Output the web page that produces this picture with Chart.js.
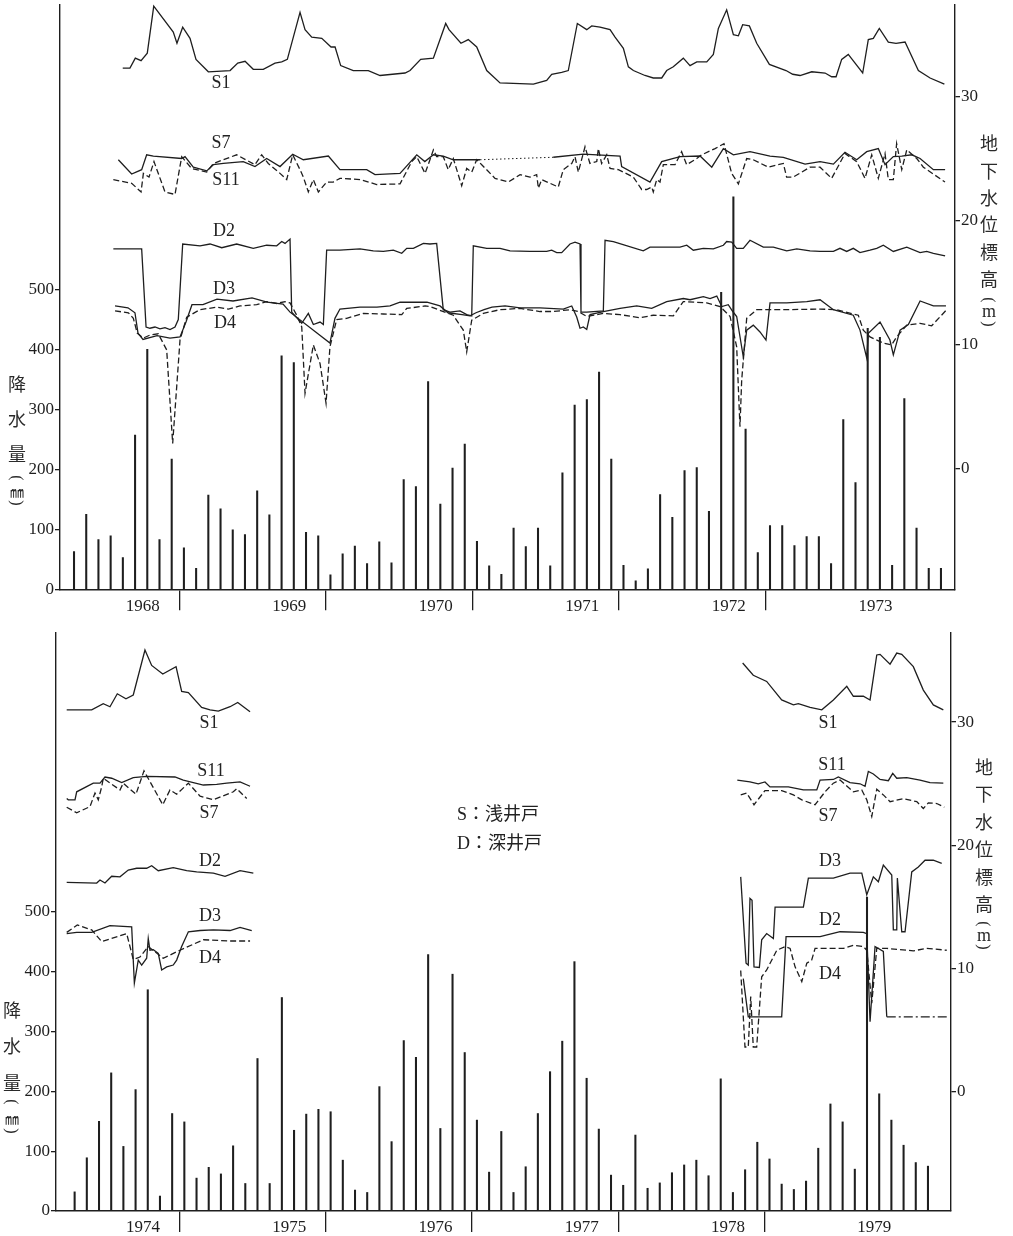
<!DOCTYPE html>
<html>
<head>
<meta charset="utf-8">
<script src="https://cdn.jsdelivr.net/npm/chart.js@4.4.1/dist/chart.umd.min.js"></script>
<style>
  html, body { margin: 0; padding: 0; background: #fff; }
  body { width: 1013px; height: 1236px; position: relative; overflow: hidden; color: #222; }
  canvas { position: absolute; left: 0; display: block; }
  .tag { position: absolute; transform: translate(-50%, -50%); white-space: nowrap;
         font: 18px "Liberation Serif", "Noto Sans CJK JP", serif; color: #222; line-height: 1; }
  .ch { position: absolute; transform: translate(-50%, -50%); white-space: nowrap;
        font: 18px "Noto Sans CJK JP", sans-serif; color: #2a2a2a; line-height: 1; }
  .ch.lat { font-family: "Liberation Serif", serif; }
  .ch.par { font-family: "Liberation Serif", serif; font-size: 16px; transform: translate(-50%, -50%) rotate(90deg); }
  .note { position: absolute; white-space: nowrap; transform: translateY(-50%);
          font: 18px "Liberation Serif", "Noto Sans CJK JP", serif; color: #222; line-height: 1; }
</style>
</head>
<body>
<canvas id="top" width="1013" height="620" style="top:0px"></canvas>
<canvas id="bottom" width="1013" height="616" style="top:620px"></canvas>
<script>
// ---- year labels ----
const years1 = ['1968', '1969', '1970', '1971', '1972', '1973'];
const years2 = ['1974', '1975', '1976', '1977', '1978', '1979'];

// ---- monthly precipitation (mm), Jan..Dec of each year ----
const rain1 = [
  63, 125, 83, 89, 53, 257, 400, 83, 217, 69, 35, 157,
  134, 99, 91, 164, 124, 389, 378, 95, 89, 24, 59, 72,
  43, 79, 44, 183, 171, 346, 142, 202, 242, 80, 39, 25,
  102, 71, 102, 39, 194, 307, 316, 362, 217, 40, 14, 34,
  158, 120, 198, 203, 130, 495, 654, 267, 61, 106, 106, 73,
  88, 88, 43, 283, 178, 435, 420, 40, 318, 102, 35, 35
];
const rain2 = [
  32, 89, 150, 231, 108, 203, 370, 25, 163, 149, 55, 73,
  62, 109, 46, 255, 46, 357, 135, 162, 170, 166, 85, 35,
  31, 208, 116, 285, 257, 429, 138, 396, 265, 152, 65, 133,
  31, 74, 163, 233, 284, 417, 222, 137, 60, 43, 127, 38,
  47, 64, 77, 85, 59, 221, 31, 69, 115, 87, 45, 36,
  50, 105, 179, 149, 70, 525, 196, 152, 110, 81, 75, null
];

const rainTicks = [0, 100, 200, 300, 400, 500];
const levelTicks = [0, 10, 20, 30];

// ---- groundwater level (m); [months since January of first year, level] ----
// 1968-1973
const s1Top = [[4.36,32.3],[4.95,32.3],[5.39,33.1],[5.86,32.9],[6.37,33.5],[6.9,37.3],[8.5,35.2],[8.8,34.3],[9.27,35.6],[9.87,34.7],[10.36,33.0],[11.37,32.0],[13.15,32.1],[13.78,32.7],[14.38,32.85],[15.05,32.2],[15.87,32.2],[16.83,32.7],[17.38,32.8],[17.84,33.0],[18.88,36.8],[19.29,35.4],[19.84,34.8],[20.66,34.7],[21.42,34.0],[21.75,34.0],[22.21,32.5],[23.24,32.1],[24.47,32.1],[25.43,31.7],[27.48,31.9],[27.89,32.1],[28.76,33.0],[29.8,33.1],[30.81,35.9],[31.08,35.4],[32.06,34.3],[32.66,34.6],[33.35,34.0],[34.17,32.1],[35.26,31.1],[37.99,31.0],[39.08,31.3],[39.49,31.8],[40.31,31.95],[40.85,32.1],[41.59,35.9],[42.36,35.4],[42.77,35.7],[43.45,35.6],[44.27,35.4],[44.68,34.8],[45.36,33.9],[45.77,32.4],[46.18,32.1],[47.13,31.7],[47.81,31.5],[48.5,31.5],[48.91,32.1],[49.45,32.4],[50.27,33.1],[50.82,32.5],[51.37,32.8],[52.19,32.8],[52.73,33.4],[53.14,35.5],[53.82,37.0],[54.37,35.0],[54.78,34.9],[55.13,35.8],[55.68,35.7],[56.28,34.3],[57.32,32.6],[58.68,32.1],[59.23,31.8],[59.83,31.7],[60.79,32.0],[61.88,31.9],[62.42,31.6],[62.78,31.6],[63.24,33.0],[63.78,33.4],[64.96,31.9],[65.42,34.6],[65.83,34.7],[66.32,35.5],[67.06,34.4],[67.69,34.3],[68.43,34.4],[69.52,32.1],[70.48,31.5],[71.65,31.0]];
const s7TopA = [[4.0,24.9],[5.09,23.75],[5.91,24.1],[6.32,25.3],[6.87,25.2],[9.19,25.0],[9.46,25.15],[10.14,24.3],[11.24,24.0],[11.78,24.5],[12.6,24.6],[14.23,24.75],[15.19,24.35],[16.15,25.0],[17.24,24.35],[18.28,25.35],[19.15,24.9],[21.2,25.2],[22.15,24.1],[24.34,24.1],[25.02,23.7],[27.07,23.8],[28.44,25.3],[29.1,24.75],[29.8,25.3],[30.61,25.2],[31.43,24.9],[33.62,24.9]];
const s7TopGap = [[33.62,24.9],[39.62,25.1]];
const s7TopB = [[39.62,25.1],[42.08,25.35],[45.09,25.2],[45.22,24.35],[47.54,23.1],[48.5,24.75],[50.0,25.15],[51.64,25.2],[52.6,24.3],[53.55,25.8],[54.37,25.3],[55.73,25.55],[57.37,25.2],[58.46,25.1],[60.24,24.55],[61.47,24.75],[62.56,24.55],[63.51,25.5],[64.47,24.9],[65.29,25.55],[66.24,25.8],[66.79,24.5],[67.47,25.15],[68.16,25.2],[68.98,25.3],[69.66,25.0],[70.75,24.1],[71.71,24.1]];
const s11Top = [[3.59,23.3],[5.09,23.0],[5.86,22.3],[6.05,23.8],[6.51,23.5],[6.92,24.75],[7.82,22.3],[8.64,22.1],[9.19,25.15],[10.0,24.2],[11.24,23.9],[11.78,24.6],[13.69,25.3],[15.19,24.5],[15.74,25.3],[16.28,24.6],[17.24,23.8],[17.79,23.3],[18.28,25.3],[18.88,24.1],[19.15,23.5],[19.56,22.3],[19.97,23.3],[20.38,22.3],[21.06,23.1],[21.6,23.1],[22.15,23.4],[23.79,23.3],[25.16,22.9],[27.07,22.95],[28.03,24.75],[28.44,25.15],[29.12,23.8],[29.52,24.9],[29.8,25.7],[30.07,25.15],[30.61,25.15],[31.02,24.1],[31.43,25.0],[32.12,22.8],[32.53,24.2],[32.94,23.9],[33.35,24.9],[33.76,24.5],[34.85,23.4],[35.94,23.1],[36.9,23.7],[37.71,23.5],[38.26,23.7],[38.4,22.6],[38.67,23.3],[40.03,22.7],[40.44,24.1],[41.13,24.6],[41.4,25.15],[41.67,23.9],[42.22,25.95],[42.62,24.6],[43.18,24.75],[43.31,25.8],[43.58,24.6],[44.0,25.3],[44.27,24.2],[44.95,24.1],[46.18,23.5],[46.86,22.5],[47.27,22.5],[47.68,22.7],[47.81,22.3],[48.09,23.3],[48.36,23.1],[48.63,24.5],[49.59,24.5],[50.13,25.55],[50.54,24.5],[51.37,25.0],[51.78,25.3],[52.87,25.8],[53.6,26.2],[54.23,23.8],[54.78,22.95],[55.46,25.0],[56.0,24.9],[57.23,24.3],[58.46,24.6],[58.73,23.5],[59.27,23.5],[60.65,24.3],[61.47,24.3],[62.42,23.4],[63.51,25.4],[64.47,24.75],[65.15,23.4],[65.7,25.3],[66.24,23.4],[66.79,25.4],[67.06,23.3],[67.47,23.3],[67.74,26.2],[68.16,24.1],[68.57,25.7],[69.39,25.0],[69.93,24.3],[71.7,23.1]];
const d2Top = [[3.59,17.7],[5.91,17.7],[6.27,11.4],[6.59,11.3],[7.0,11.4],[7.41,11.25],[7.82,11.35],[8.23,11.2],[8.64,11.4],[8.91,12.0],[9.27,18.1],[10.69,17.95],[11.51,18.1],[12.47,17.8],[13.69,18.1],[15.05,17.75],[16.15,18.0],[16.97,17.95],[17.38,18.3],[17.65,18.15],[18.06,18.5],[18.2,12.6],[19.02,11.7],[19.56,12.5],[19.97,11.6],[20.52,11.8],[20.79,11.6],[21.06,17.6],[22.15,17.6],[23.79,17.7],[24.88,17.55],[25.7,17.5],[26.52,17.6],[27.21,17.35],[27.62,17.75],[28.16,17.75],[28.98,18.15],[29.52,18.1],[30.07,18.15],[30.61,12.8],[31.16,12.6],[31.98,12.7],[32.53,12.4],[32.94,12.3],[33.07,17.95],[34.17,17.75],[35.26,17.75],[36.08,17.55],[37.71,17.5],[39.08,17.5],[39.49,17.6],[39.9,17.4],[40.31,17.4],[40.99,18.1],[41.4,18.25],[41.81,18.1],[41.89,12.6],[42.36,12.6],[43.72,12.7],[43.86,18.4],[44.54,18.3],[46.99,17.55],[47.54,17.85],[50.0,17.85],[50.55,18.0],[51.09,17.6],[51.91,17.75],[52.73,17.7],[53.55,18.0],[53.82,18.3],[54.23,18.25],[54.64,17.75],[55.18,17.75],[55.73,18.4],[56.82,17.85],[57.64,17.85],[58.74,17.55],[59.56,17.7],[60.65,17.55],[61.47,17.5],[62.56,17.5],[63.1,17.75],[63.65,17.5],[64.19,17.75],[64.74,17.4],[65.56,17.6],[66.11,17.75],[66.65,18.0],[67.47,17.5],[68.57,17.85],[69.66,17.4],[70.2,17.5],[70.75,17.35],[71.71,17.15]];
const d3Top = [[3.73,13.1],[4.79,12.95],[5.36,12.55],[5.61,10.9],[6.02,10.4],[7.17,10.7],[8.23,10.5],[9.05,10.6],[9.54,11.8],[10.03,13.2],[10.93,13.2],[12.08,13.65],[13.39,13.5],[14.95,13.75],[16.18,13.4],[17.49,13.25],[18.06,12.6],[21.33,10.1],[21.74,12.1],[22.15,12.85],[23.79,13.0],[25.18,13.0],[26.25,13.1],[27.07,13.4],[29.28,13.4],[30.34,13.1],[31.0,12.55],[32.15,12.4],[32.8,12.3],[33.29,12.55],[33.95,12.8],[34.6,13.0],[35.67,13.1],[36.9,12.95],[38.53,12.95],[40.44,12.85],[41.13,13.1],[41.54,12.2],[41.81,11.3],[42.08,11.4],[42.36,11.2],[42.63,12.4],[43.72,12.65],[45.09,12.9],[46.45,13.1],[47.68,12.9],[48.91,13.45],[50.27,13.7],[50.82,13.6],[51.91,13.85],[52.46,13.7],[53.01,13.9],[53.42,13.05],[53.95,13.2],[54.32,12.65],[54.64,12.25],[55.18,9.0],[55.46,11.15],[56.0,11.55],[56.55,11.0],[57.04,10.35],[57.37,13.35],[58.74,13.35],[60.38,13.45],[61.47,13.6],[62.56,12.8],[64.19,12.35],[64.74,11.15],[65.29,8.9],[65.42,10.9],[66.38,11.8],[67.19,10.35],[67.47,9.15],[68.02,11.15],[68.7,11.6],[69.66,13.5],[70.75,13.1],[71.78,13.1]];
const d4Top = [[3.73,12.7],[4.82,12.55],[5.23,12.1],[5.55,10.9],[6.04,10.5],[6.59,10.75],[7.27,10.85],[7.96,9.55],[8.45,2.0],[9.05,10.35],[9.6,12.2],[10.69,12.8],[12.06,13.0],[13.01,12.85],[13.96,13.1],[15.33,13.2],[16.15,13.45],[16.97,13.3],[17.65,13.45],[18.06,13.35],[18.61,12.35],[19.02,11.4],[19.29,6.05],[19.97,9.95],[20.52,8.45],[21.01,5.25],[21.33,9.8],[21.88,12.0],[22.7,12.1],[24.06,12.5],[25.7,12.45],[27.21,12.4],[27.62,12.9],[29.12,13.1],[29.52,13.05],[31.43,12.35],[32.25,11.15],[32.53,9.4],[32.94,11.95],[33.89,12.5],[35.26,12.8],[36.9,12.9],[38.53,12.65],[39.62,12.65],[40.99,12.8],[41.67,12.65],[42.36,12.25],[43.72,12.5],[45.09,12.4],[46.72,12.15],[47.81,12.35],[49.45,12.3],[50.27,13.45],[52.19,13.35],[53.28,13.05],[54.1,12.25],[54.64,9.8],[54.91,3.35],[55.05,7.1],[55.46,12.1],[56.28,12.8],[58.74,12.8],[61.47,12.85],[62.83,12.8],[64.6,12.35],[65.01,11.15],[65.56,10.6],[66.65,10.1],[67.33,9.95],[67.74,10.6],[68.57,11.55],[69.66,11.7],[70.61,11.5],[71.84,12.8]];

// 1974-1979
const s1BotL = [[-0.25,31.0],[1.8,31.0],[2.75,31.5],[3.3,31.25],[3.9,32.3],[4.61,31.9],[5.21,32.2],[6.17,35.85],[6.72,34.6],[7.63,33.9],[8.72,34.5],[9.18,32.5],[9.73,32.4],[10.82,31.2],[11.51,31.0],[12.19,30.9],[13.15,31.25],[13.78,31.6],[14.79,30.85]];
const s1BotR = [[55.2,34.8],[56.07,33.8],[57.17,33.3],[58.4,31.8],[59.36,31.4],[59.77,31.5],[60.73,31.2],[61.69,31.0],[62.64,31.8],[63.74,32.9],[64.28,32.1],[65.1,32.1],[65.65,31.8],[66.2,35.45],[66.47,35.5],[67.29,34.7],[67.84,35.6],[68.25,35.5],[69.2,34.5],[70.02,32.6],[70.84,31.4],[71.66,31.0]];
const s11BotL = [[-0.25,23.8],[-0.12,23.7],[0.43,23.7],[0.57,24.35],[1.93,25.05],[2.48,25.05],[2.89,25.55],[3.44,25.45],[4.26,25.1],[5.21,25.5],[6.31,25.6],[8.63,25.55],[9.31,25.3],[10.96,24.9],[12.05,24.95],[12.88,25.05],[13.97,25.15],[14.79,24.8]];
const s11BotR = [[54.76,25.3],[55.8,25.15],[56.48,25.0],[57.03,25.15],[57.44,24.75],[58.95,24.75],[60.18,24.5],[61.28,24.5],[61.55,25.3],[62.64,25.35],[63.05,25.55],[64.01,25.1],[64.83,25.0],[65.24,24.8],[65.51,26.0],[65.92,25.8],[66.47,25.35],[67.15,25.25],[67.51,25.85],[67.84,25.45],[68.66,25.5],[69.75,25.3],[70.57,25.1],[71.66,25.05]];
const s7BotL = [[-0.25,23.1],[0.57,22.65],[1.66,23.15],[2.07,24.25],[2.34,23.7],[2.62,24.75],[2.75,25.45],[4.12,24.5],[4.39,25.05],[5.43,24.15],[6.09,26.05],[7.63,23.3],[8.22,24.5],[8.77,24.15],[9.73,25.05],[10.69,24.0],[11.78,23.7],[13.42,24.35],[13.7,24.6],[14.52,23.8]];
const s7BotR = [[55.04,24.1],[55.53,24.25],[56.13,23.3],[57.03,24.45],[58.4,24.45],[59.36,24.1],[60.05,23.7],[61.14,23.3],[61.96,24.35],[62.64,25.05],[63.19,25.3],[64.28,24.35],[64.97,24.5],[65.38,23.7],[65.79,22.35],[66.2,24.55],[66.74,24.1],[67.29,23.55],[68.38,23.8],[69.48,23.55],[70.02,23.0],[70.43,23.45],[71.12,23.4],[71.74,23.1]];
const d2BotL = [[-0.25,17.0],[2.21,16.95],[2.48,17.2],[2.89,16.95],[3.44,17.5],[4.12,17.45],[4.8,18.0],[5.49,18.15],[6.31,18.15],[6.72,18.35],[7.26,17.95],[8.49,18.2],[9.59,17.95],[10.41,17.85],[11.78,17.75],[12.74,17.5],[13.97,17.95],[15.06,17.75]];
const d2BotR = [[55.25,9.2],[55.66,6.1],[58.4,6.1],[58.76,12.6],[61.55,12.6],[63.19,13.0],[65.1,12.95],[65.38,12.85],[65.65,5.7],[66.06,11.8],[66.74,11.4],[67.02,6.1]];
const d2BotTail = [[67.02,6.1],[71.94,6.1]];
const d3BotL = [[-0.25,12.85],[0.57,12.95],[1.8,12.95],[3.3,13.5],[5.08,13.4],[5.3,8.85],[5.62,10.7],[5.9,10.3],[6.31,10.85],[6.44,12.45],[6.58,11.5],[6.85,11.55],[7.26,11.25],[7.54,9.9],[7.95,10.15],[8.49,10.3],[8.77,10.7],[9.18,11.8],[9.73,13.0],[10.69,13.1],[11.78,13.15],[13.15,13.1],[13.97,13.35],[14.93,13.1]];
const d3BotR = [[55.04,17.45],[55.48,10.45],[55.66,10.3],[55.8,15.7],[55.97,15.55],[56.13,10.15],[56.57,10.1],[56.76,12.35],[57.17,12.85],[57.72,12.45],[57.86,15.0],[60.18,15.0],[60.59,17.35],[62.64,17.35],[64.01,17.75],[64.97,17.75],[65.38,16.0],[65.92,17.45],[66.33,17.05],[66.74,18.4],[67.43,17.6],[67.56,13.15],[67.84,13.15],[67.89,17.35],[68.25,13.0],[68.52,13.0],[69.07,17.85],[69.61,18.25],[70.16,18.8],[70.84,18.8],[71.53,18.55]];
const d4BotL = [[-0.25,12.95],[0.62,13.55],[1.8,13.15],[2.62,12.2],[4.67,12.85],[5.21,10.75],[5.76,10.95],[6.44,11.8],[7.67,10.85],[9.04,11.5],[10.96,12.35],[13.15,12.25],[14.79,12.25]];
const d4BotR = [[55.04,9.85],[55.39,3.65],[55.66,3.65],[55.86,7.75],[56.07,3.65],[56.35,3.65],[56.76,9.35],[57.17,9.9],[58.0,11.5],[58.68,11.8],[59.09,11.65],[59.5,10.15],[60.05,8.95],[60.46,10.45],[60.86,10.7],[61.14,11.65],[62.64,11.65],[63.46,11.65],[64.28,11.9],[65.1,11.8],[65.38,11.5],[65.79,7.2],[66.2,11.65],[67.02,11.65],[69.2,11.45],[70.3,11.65],[71.94,11.5]];

// ---- drawing ----
const INK = '#1e1e1e';
const SERIF = '"Liberation Serif", "DejaVu Serif", serif';

function toPoints(arr) { return arr.map(p => ({ x: p[0], y: p[1] })); }

function lineSet(arr, style) {
  const ds = {
    type: 'line', data: toPoints(arr), yAxisID: 'y2',
    borderColor: INK, borderWidth: 1.3, pointRadius: 0, tension: 0,
    fill: false, clip: false, order: 1
  };
  if (style === 'dash') ds.borderDash = [6, 3];
  if (style === 'dot') { ds.borderDash = [1.5, 2.5]; ds.borderWidth = 1; }
  if (style === 'dashdot') ds.borderDash = [9, 3, 2, 3];
  return ds;
}

function fixBox(w, h) {
  return s => {
    if (w != null) s.width = w;
    if (h != null) s.height = h;
    s.paddingLeft = s.paddingRight = s.paddingTop = s.paddingBottom = 0;
  };
}

function makePanel(id, years, rain, lines, g) {
  const boundary = c => (c.tick && c.tick.value % 12 === 0) ? INK : 'rgba(0,0,0,0)';
  new Chart(document.getElementById(id), {
    type: 'line',
    data: {
      datasets: [
        {
          type: 'bar', yAxisID: 'y', order: 2,
          data: rain.map((r, i) => ({ x: i + g.barShift, y: r })),
          backgroundColor: INK, borderWidth: 0, barThickness: 1.4
        },
        ...lines.map(l => lineSet(l[0], l[1]))
      ]
    },
    options: {
      responsive: false, animation: false, devicePixelRatio: 1,
      layout: { padding: { top: g.top, left: 0, right: 0, bottom: 0 } },
      plugins: { legend: { display: false }, tooltip: { enabled: false } },
      scales: {
        x: {
          type: 'linear', position: 'bottom', min: g.xMin, max: g.xMax, offset: false,
          afterBuildTicks: s => { s.ticks = [6, 12, 18, 24, 30, 36, 42, 48, 54, 60, 66].map(v => ({ value: v })); },
          afterFit: fixBox(null, g.xh),
          grid: { drawOnChartArea: false, drawTicks: true, tickLength: 21, lineWidth: 1.3,
                  color: boundary, tickColor: boundary },
          border: { color: INK, width: 1.4 },
          ticks: { autoSkip: false, maxRotation: 0, minRotation: 0, padding: g.labPad, color: INK,
                   font: { family: SERIF, size: 17 },
                   callback: v => (v % 12 === 6) ? years[(v - 6) / 12] : '' }
        },
        y: {
          position: 'left', min: 0, max: g.yMax,
          afterBuildTicks: s => { s.ticks = rainTicks.map(v => ({ value: v })); },
          afterFit: fixBox(g.yw, null),
          grid: { drawOnChartArea: false, tickLength: 5, color: INK, lineWidth: 1.3 },
          border: { color: INK, width: 1.4 },
          ticks: { padding: 1, color: INK, font: { family: SERIF, size: 17 } }
        },
        y2: {
          position: 'right', min: g.y2Min, max: g.y2Max,
          afterBuildTicks: s => { s.ticks = levelTicks.map(v => ({ value: v })); },
          afterFit: fixBox(g.y2w, null),
          grid: { drawOnChartArea: false, tickLength: 5, color: INK, lineWidth: 1.3 },
          border: { color: INK, width: 1.4 },
          ticks: { padding: 1, color: INK, font: { family: SERIF, size: 17 } }
        }
      }
    }
  });
}

makePanel('top', years1, rain1, [
  [s1Top, 'solid'], [s7TopA, 'solid'], [s7TopGap, 'dot'], [s7TopB, 'solid'], [s11Top, 'dash'],
  [d2Top, 'solid'], [d3Top, 'solid'], [d4Top, 'dash']
], { top: 5, xh: 30.7, yw: 60, y2w: 58, xMin: -0.778, xMax: 72.52,
     yMax: 973.8, y2Min: -9.77, y2Max: 37.39, barShift: 0.37, labPad: -14 });

makePanel('bottom', years2, rain2, [
  [s1BotL, 'solid'], [s1BotR, 'solid'], [s11BotL, 'solid'], [s11BotR, 'solid'],
  [s7BotL, 'dash'], [s7BotR, 'dash'], [d2BotL, 'solid'], [d2BotR, 'solid'], [d2BotTail, 'dashdot'],
  [d3BotL, 'solid'], [d3BotR, 'solid'], [d4BotL, 'dash'], [d4BotR, 'dash']
], { top: 13, xh: 25, yw: 56, y2w: 62, xMin: -1.128, xMax: 72.29,
     yMax: 966.6, y2Min: -9.65, y2Max: 37.23, barShift: 0.4, labPad: -15 });

// ---- well names beside the curves ----
const wellTags = [
  ['S1', 221, 82], ['S7', 221, 142], ['S11', 226, 179], ['D2', 224, 230], ['D3', 224, 288], ['D4', 225, 322],
  ['S1', 209, 722], ['S11', 211, 770], ['S7', 209, 812], ['D2', 210, 860], ['D3', 210, 915], ['D4', 210, 957],
  ['S1', 828, 722], ['S11', 832, 764], ['S7', 828, 815], ['D3', 830, 860], ['D2', 830, 919], ['D4', 830, 973]
];
wellTags.forEach(([t, x, y]) => {
  const d = document.createElement('div');
  d.className = 'tag'; d.textContent = t;
  d.style.left = x + 'px'; d.style.top = y + 'px';
  document.body.appendChild(d);
});

// ---- key ----
[['S：浅井戸', 457, 814], ['D：深井戸', 457, 843]].forEach(([t, x, y]) => {
  const d = document.createElement('div');
  d.className = 'note'; d.textContent = t;
  d.style.left = x + 'px'; d.style.top = y + 'px';
  document.body.appendChild(d);
});

// ---- stacked axis titles (parentheses turned for vertical setting) ----
function stack(chars, x) {
  chars.forEach(([c, y, kind]) => {
    const d = document.createElement('div');
    d.className = kind ? 'ch ' + kind : 'ch'; d.textContent = c;
    d.style.left = x + 'px'; d.style.top = y + 'px';
    if (c === '㎜') d.style.fontSize = '14px';
    document.body.appendChild(d);
  });
}
stack([['降', 383], ['水', 418], ['量', 453], ['(', 478, 'par'], ['㎜', 491], [')', 503, 'par']], 17);
stack([['降', 1009], ['水', 1045], ['量', 1082], ['(', 1102, 'par'], ['㎜', 1118], [')', 1131, 'par']], 12);
stack([['地', 142], ['下', 170], ['水', 197], ['位', 223], ['標', 251], ['高', 278], ['(', 300, 'par'], ['m', 311, 'lat'], [')', 324, 'par']], 989);
stack([['地', 766], ['下', 793], ['水', 821], ['位', 848], ['標', 876], ['高', 903], ['(', 924, 'par'], ['m', 935, 'lat'], [')', 947, 'par']], 984);
</script>
</body>
</html>
